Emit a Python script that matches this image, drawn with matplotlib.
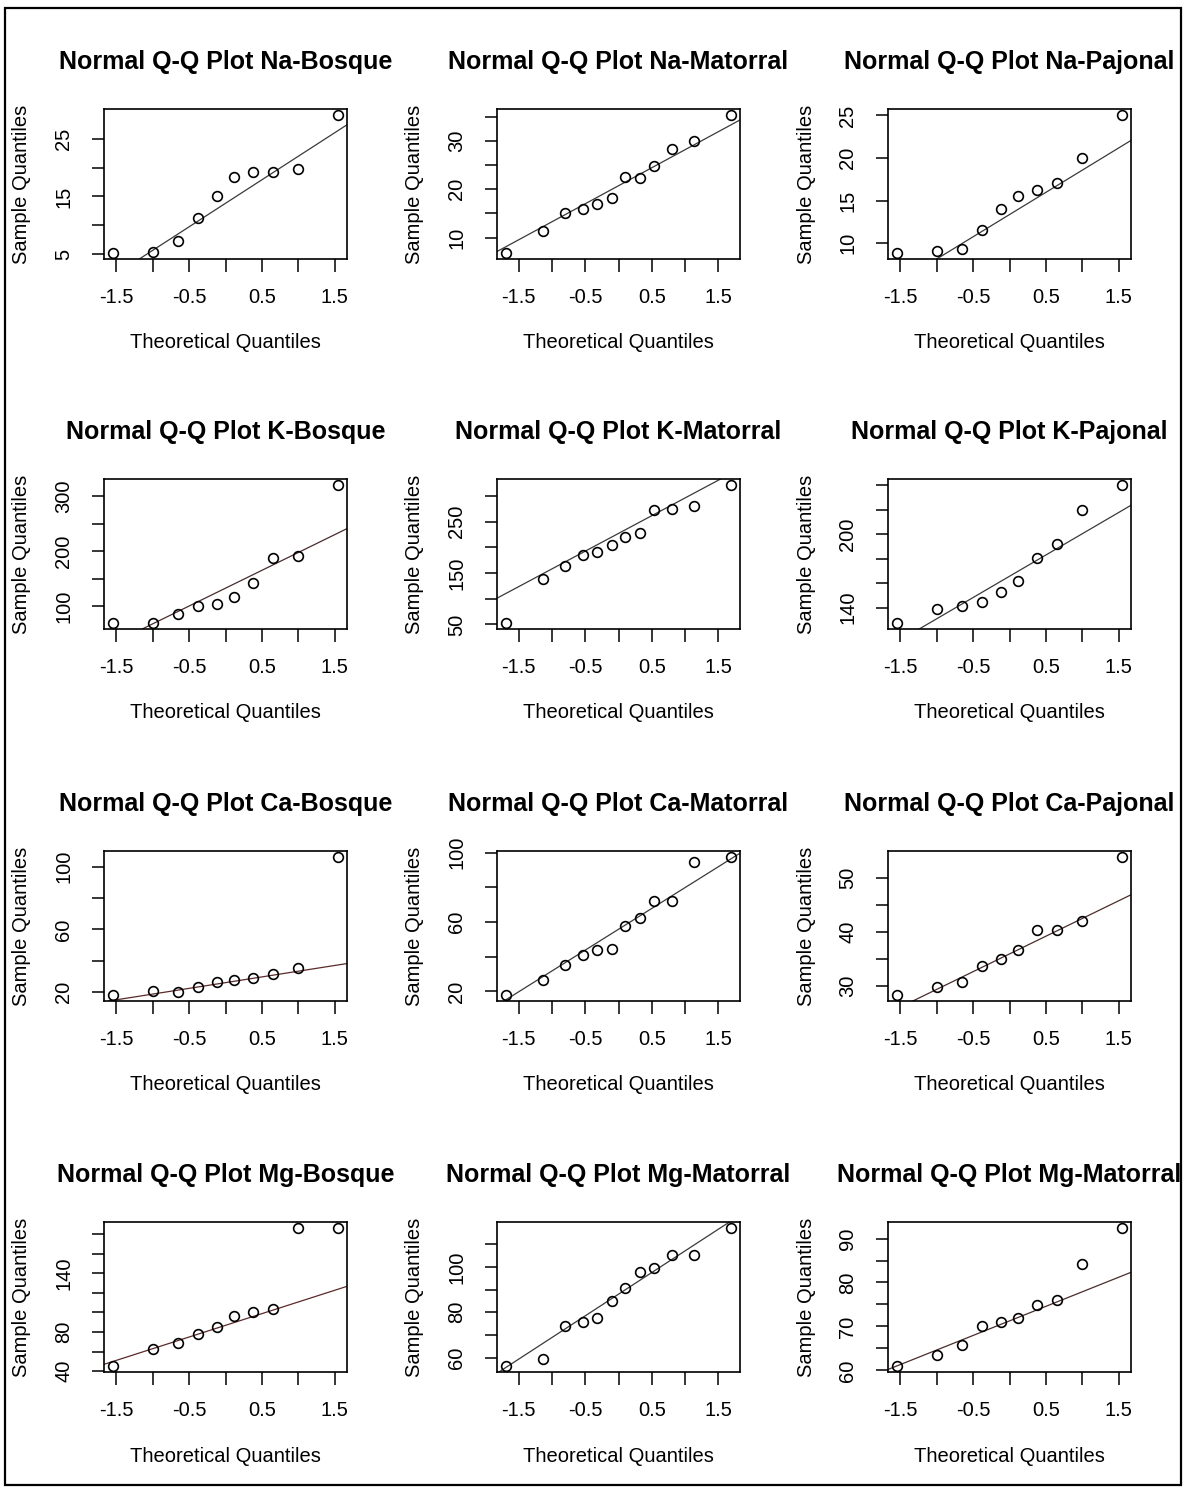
import matplotlib
matplotlib.use("Agg")
import matplotlib.pyplot as plt
from matplotlib.patches import Rectangle
import numpy as np

plt.rcParams['font.family'] = ['Liberation Sans', 'DejaVu Sans']

# theoretical quantiles (10 and 12 samples)
q10 = [-1.547, -1.000, -0.655, -0.375, -0.123, 0.123, 0.375, 0.655, 1.000, 1.547]
q12 = [-1.691, -1.140, -0.801, -0.541, -0.318, -0.105, 0.105, 0.318, 0.541, 0.801, 1.140, 1.691]

titles = ["Normal Q-Q Plot Na-Bosque", "Normal Q-Q Plot Na-Matorral", "Normal Q-Q Plot Na-Pajonal",
          "Normal Q-Q Plot K-Bosque", "Normal Q-Q Plot K-Matorral", "Normal Q-Q Plot K-Pajonal",
          "Normal Q-Q Plot Ca-Bosque", "Normal Q-Q Plot Ca-Matorral", "Normal Q-Q Plot Ca-Pajonal",
          "Normal Q-Q Plot Mg-Bosque", "Normal Q-Q Plot Mg-Matorral", "Normal Q-Q Plot Mg-Matorral"]

# sample quantiles (sorted)
na_bosque = [5.1, 5.4, 7.3, 11.3, 15.0, 18.3, 19.3, 19.3, 19.7, 29.2]
na_matorral = [6.7, 11.4, 15.1, 15.9, 16.9, 18.2, 22.6, 22.4, 24.9, 28.4, 30.0, 35.5]
na_pajonal = [8.8, 9.1, 9.3, 11.5, 14.0, 15.5, 16.2, 17.1, 20.0, 25.1]
k_bosque = [68, 69, 85, 99, 103, 117, 141, 188, 191, 321.5]
k_matorral = [52, 138.5, 164, 186, 190, 205, 221, 227, 273, 275, 280, 322]
k_pajonal = [127, 138.6, 141.4, 144.4, 152.4, 162, 180.5, 191.8, 220, 240.5]
ca_bosque = [17.8, 20.4, 20.0, 23.0, 26.5, 27.8, 29.1, 31.5, 35.1, 106.5]
ca_matorral = [17.7, 26.8, 35.5, 41.0, 43.7, 44.5, 57.9, 62.3, 72.0, 72.0, 94.4, 97.7]
ca_pajonal = [28.2, 29.7, 30.75, 33.6, 35.0, 36.7, 40.3, 40.3, 42.0, 53.9]
mg_bosque = [44.8, 63.1, 68.3, 77.9, 85.5, 95.9, 100.0, 103.8, 186.6, 186.6]
mg_matorral = [56.1, 59.6, 73.9, 75.5, 77.3, 84.9, 90.8, 97.7, 99.4, 105.3, 105.3, 117.4]
mg_pajonal = [60.9, 63.6, 65.7, 70.1, 71.1, 72.0, 74.9, 76.0, 84.3, 92.5]

samples = [na_bosque, na_matorral, na_pajonal, k_bosque, k_matorral, k_pajonal,
           ca_bosque, ca_matorral, ca_pajonal, mg_bosque, mg_matorral, mg_pajonal]

# y ticks and which of them carry a label
yticks = [[5, 10, 15, 20, 25], [10, 15, 20, 25, 30, 35], [10, 15, 20, 25],
          [100, 150, 200, 250, 300], [50, 100, 150, 200, 250, 300], [140, 160, 180, 200, 220, 240],
          [20, 40, 60, 80, 100], [20, 40, 60, 80, 100], [30, 35, 40, 45, 50],
          [40, 60, 80, 100, 120, 140, 160, 180], [60, 70, 80, 90, 100, 110], [60, 65, 70, 75, 80, 85, 90]]
ylabels = [[5, 15, 25], [10, 20, 30], [10, 15, 20, 25],
           [100, 200, 300], [50, 150, 250], [140, 200],
           [20, 60, 100], [20, 60, 100], [30, 40, 50],
           [40, 80, 140], [60, 80, 100], [60, 70, 80, 90]]
xticks = [-1.5, -1.0, -0.5, 0.0, 0.5, 1.0, 1.5]
xlabels = [-1.5, -0.5, 0.5, 1.5]

line_cols = ['#3a3a3a', '#3a3a3a', '#3a3a3a',
             '#4a2c2c', '#3a3a3a', '#3a3a3a',
             '#5a2a2a', '#3a3a3a', '#4a2c2c',
             '#5a2a2a', '#3a3a3a', '#4a2c2c']

W, H = 1189, 1489
fig = plt.figure(figsize=(W / 100, H / 100), dpi=100)
fig.patches.append(Rectangle((5 / W, 1 - 1485 / H), 1176 / W, 1477 / H, transform=fig.transFigure,
                             fill=False, edgecolor='black', linewidth=1.6))

col_left = [104, 497, 888]
row_top = [109, 479, 851, 1222]
aw, ah = 243, 150


def fmt(v):
    return ('%g' % v)


for k in range(12):
    r, c = divmod(k, 3)
    y = np.array(samples[k], dtype=float)
    x = np.array(q10 if len(y) == 10 else q12)
    ax = fig.add_axes([col_left[c] / W, 1 - (row_top[r] + ah) / H, aw / W, ah / H])
    ax.plot(x, y, 'o', mfc='none', mec='black', ms=7, mew=1.2, zorder=3)

    # qqline: through first and third quartiles
    yq = np.quantile(np.sort(y), [0.25, 0.75])
    xq = np.array([-0.6745, 0.6745])
    slope = (yq[1] - yq[0]) / (xq[1] - xq[0])
    icpt = yq[0] - slope * xq[0]
    xr = x.max() - x.min()
    yr = y.max() - y.min()
    xl = (x.min() - 0.04 * xr, x.max() + 0.04 * xr)
    yl = (y.min() - 0.04 * yr, y.max() + 0.04 * yr)
    ax.axline((0, icpt), slope=slope, color=line_cols[k], lw=0.9, zorder=2)
    ax.set_xlim(xl)
    ax.set_ylim(yl)

    ax.set_xticks(xticks)
    ax.set_xticklabels([fmt(t) if t in xlabels else '' for t in xticks])
    ax.set_yticks(yticks[k])
    ax.set_yticklabels([fmt(t) if t in ylabels[k] else '' for t in yticks[k]],
                       rotation=90, va='center')
    ax.tick_params(axis='both', length=9, width=1.1, labelsize=14.5, colors='black')
    ax.tick_params(axis='x', pad=12)
    ax.tick_params(axis='y', pad=13)
    for s in ax.spines.values():
        s.set_linewidth(1.2)

    cx = col_left[c] + aw / 2
    fig.text(cx / W, 1 - (row_top[r] - 47) / H, titles[k], ha='center', va='center',
             fontsize=18, fontweight='bold')
    fig.text(cx / W, 1 - (row_top[r] + ah + 84) / H, "Theoretical Quantiles",
             ha='center', va='center', fontsize=14.5)
    fig.text((col_left[c] - 82) / W, 1 - (row_top[r] + ah / 2) / H, "Sample Quantiles",
             ha='center', va='center', rotation=90, fontsize=14.5)

fig.savefig("out.png", dpi=100)
